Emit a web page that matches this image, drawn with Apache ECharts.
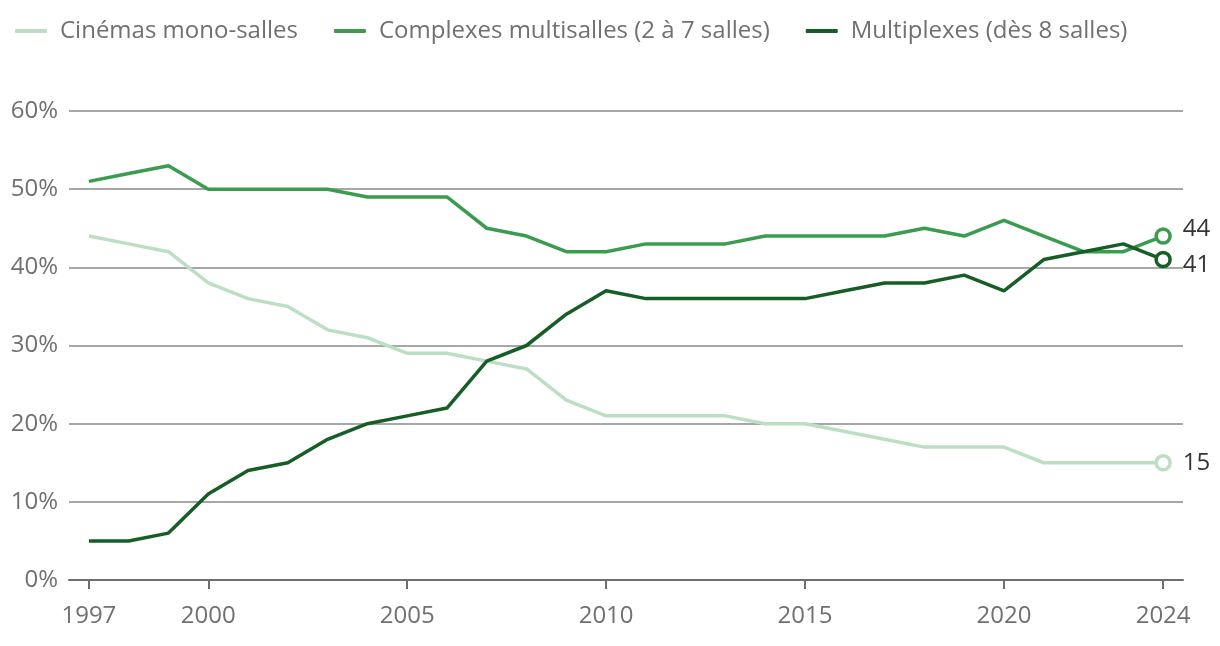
<!DOCTYPE html>
<html><head><meta charset="utf-8">
<script src="https://cdn.jsdelivr.net/npm/echarts@6/dist/echarts.min.js"></script>
<style>html,body{margin:0;padding:0;background:#fff}#c{width:1220px;height:646px}</style>
</head><body><div id="c"></div>
<script>
const years = ['1997','1998','1999','2000','2001','2002','2003','2004','2005','2006','2007','2008','2009','2010','2011','2012','2013','2014','2015','2016','2017','2018','2019','2020','2021','2022','2023','2024'];
const shownYears = ['1997','2000','2005','2010','2015','2020','2024'];
const yTicks = [0,10,20,30,40,50,60];
const monoSalles = [44,43,42,38,36,35,32,31,29,29,28,27,23,21,21,21,21,20,20,19,18,17,17,17,15,15,15,15];
const multisalles = [51,52,53,50,50,50,50,49,49,49,45,44,42,42,43,43,43,44,44,44,44,45,44,46,44,42,42,44];
const multiplexes = [5,5,6,11,14,15,18,20,21,22,28,30,34,37,36,36,36,36,36,37,38,38,39,37,41,42,43,41];
const names = ['Cinémas mono-salles','Complexes multisalles (2 à 7 salles)','Multiplexes (dès 8 salles)'];
const colors = ['#bcdfc3','#3b9c4f','#175d26'];
const labelShift = [0,-7,6];
const FONT = 'Open Sans';

function mk(vals, i){
  return {
    name: names[i], type:'line', showSymbol:true, symbol:'none',
    lineStyle:{width:3.5, color:colors[i]}, itemStyle:{color:colors[i]},
    z: 3+i,
    data: vals.map((v,k)=> k===vals.length-1 ? {
      value:v, symbol:'circle', symbolSize:14,
      itemStyle:{color:'#fff', borderColor:colors[i], borderWidth:3.5},
      label:{show:true, position:'right', distance:11, offset:[0,labelShift[i]], formatter:String(v), color:'#333', fontSize:24, fontFamily:FONT}
    } : v),
    emphasis:{disabled:true}, animation:false
  };
}

const chart = echarts.init(document.getElementById('c'));
chart.setOption({
  animation:false,
  textStyle:{fontFamily:FONT},
  legend:{
    left:10, top:14, itemWidth:32, itemHeight:4, itemGap:36,
    icon:'roundRect',
    textStyle:{color:'#707070', fontSize:24, fontFamily:FONT, padding:[0,0,0,8]},
    data:names
  },
  grid:{left:69, right:37, top:111, bottom:66, containLabel:false},
  xAxis:{
    type:'category', data:years, boundaryGap:true,
    axisLine:{lineStyle:{color:'#6e6e6e', width:2}},
    axisTick:{show:true, alignWithLabel:true, length:9, lineStyle:{color:'#6e6e6e', width:2},
      interval:(idx,val)=>shownYears.includes(val)},
    axisLabel:{color:'#707070', fontSize:24, fontFamily:FONT, margin:24,
      interval:(idx,val)=>shownYears.includes(val)},
    splitLine:{show:false}
  },
  yAxis:{
    type:'value', min:0, max:60, interval:10,
    axisLine:{show:false}, axisTick:{show:false},
    axisLabel:{color:'#707070', fontSize:24, fontFamily:FONT, margin:11, formatter:v=>v+'%'},
    splitLine:{lineStyle:{color:'#8a8a8a', width:1.5}}
  },
  series:[mk(monoSalles,0), mk(multisalles,1), mk(multiplexes,2)]
});
</script></body></html>
